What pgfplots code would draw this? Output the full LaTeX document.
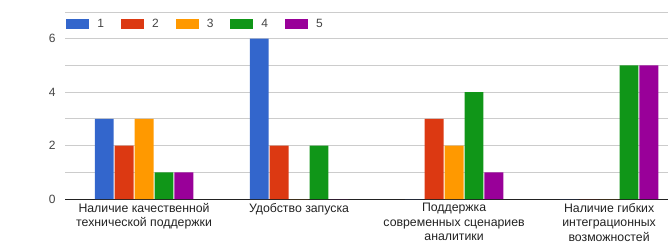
\documentclass[border=0pt]{standalone}
\usepackage{pgfplots}
\pgfplotsset{compat=1.18}
\usepackage{fontspec}
\setmainfont{Liberation Sans}
\definecolor{c1}{HTML}{3366CC}
\definecolor{c2}{HTML}{DC3912}
\definecolor{c3}{HTML}{FF9900}
\definecolor{c4}{HTML}{109618}
\definecolor{c5}{HTML}{990099}
\definecolor{gridc}{HTML}{CCCCCC}
\definecolor{tickc}{HTML}{444444}
\definecolor{labc}{HTML}{222222}
\begin{document}
\begin{tikzpicture}
\useasboundingbox (-65pt,-45pt) rectangle (603pt,199pt);
\begin{axis}[
  at={(0pt,0pt)}, anchor=south west,
  scale only axis, width=603pt, height=187pt,
  ybar=1pt, bar width=0.122,
  xmin=-0.51, xmax=3.38, ymin=0, ymax=7,
  xtick={0,1,2,3},
  xticklabels={{Наличие качественной\\технической поддержки},{Удобство запуска},{Поддержка\\современных сценариев\\аналитики},{Наличие гибких\\интеграционных\\возможностей}},
  xticklabel style={align=center, text=labc, font=\fontsize{12.3}{14.6}\selectfont, inner sep=0pt, yshift=-4pt},
  ytick={0,2,4,6}, minor ytick={1,3,5,7},
  yticklabel style={text=tickc, font=\fontsize{12}{14}\selectfont, xshift=-6pt},
  /pgf/number format/assume math mode=true,
  ymajorgrids, yminorgrids,
  major grid style={gridc, line width=0.8pt},
  minor grid style={gridc, line width=0.8pt},
  axis x line*=bottom, axis y line*=left,
  x axis line style={draw=labc, line width=0.9pt, -},
  y axis line style={draw=none},
  major tick length=0pt, minor tick length=0pt,
  legend columns=5,
  legend style={at={(0.002,0.936)}, anchor=west, draw=none, fill=none, inner sep=0pt,
    font=\fontsize{12}{14}\selectfont, text=tickc,
    nodes={inner sep=0pt},
    /tikz/every odd column/.append style={column sep=8pt},
    /tikz/every even column/.append style={column sep=17pt}},
  legend image code/.code={\fill[#1] (0pt,-5pt) rectangle (23pt,5pt);},
]
\addplot[fill=c1, draw=none] coordinates {(0,3) (1,6) (2,0) (3,0)};
\addplot[fill=c2, draw=none] coordinates {(0,2) (1,2) (2,3) (3,0)};
\addplot[fill=c3, draw=none] coordinates {(0,3) (1,0) (2,2) (3,0)};
\addplot[fill=c4, draw=none] coordinates {(0,1) (1,2) (2,4) (3,5)};
\addplot[fill=c5, draw=none] coordinates {(0,1) (1,0) (2,1) (3,5)};
\legend{1,2,3,4,5}
\end{axis}
\end{tikzpicture}
\end{document}
